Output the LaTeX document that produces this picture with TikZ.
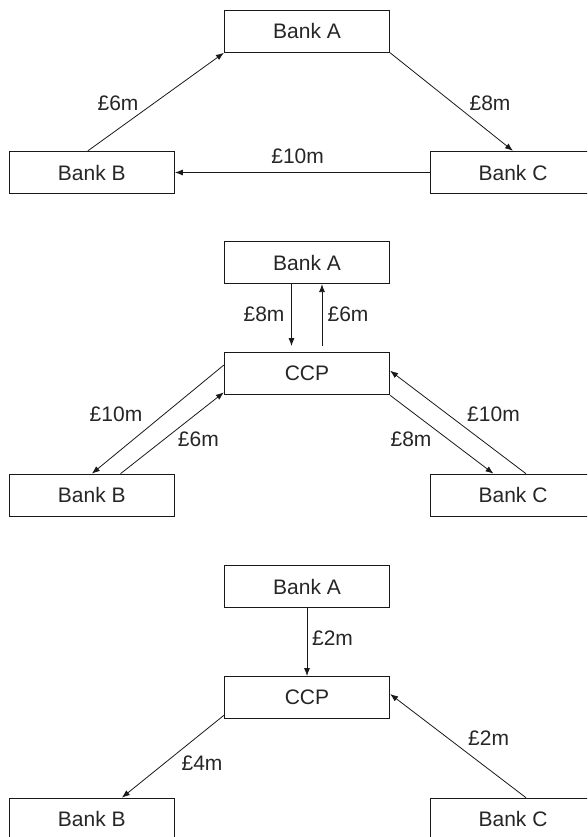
\documentclass[tikz,border=0pt]{standalone}
\usepackage{fontspec}
\setmainfont{Liberation Sans}
\usetikzlibrary{arrows.meta}
\tikzset{
  bank/.style={draw=black!90, line width=1.2pt, minimum width=165pt, minimum height=42pt,
    inner sep=0pt, font=\fontsize{21}{25}\selectfont, text=black!85},
  flow/.style={draw=black!90, line width=0.8pt, -{Latex[length=8pt,width=6pt]}},
  amount/.style={font=\fontsize{21}{25}\selectfont, text=black!85, inner sep=0pt}
}
\begin{document}
\begin{tikzpicture}[x=1pt, y=-1pt]
\useasboundingbox (0,0) rectangle (587,837);
\clip (0,0) rectangle (587,837);

% --- gross bilateral payments ---
\node[bank] (a1) at (307,31.2) {Bank A};
\node[bank] (b1) at (91.8,172.5) {Bank B};
\node[bank] (c1) at (513,172.5) {Bank C};
\draw[flow] ([xshift=-4pt]b1.north) -- (a1.south west);
\draw[flow] (a1.south east) -- (c1.north);
\draw[flow] (c1.west) -- (b1.east);
\node[amount] (l1a) at (118,103.3) {£6m};
\node[amount] (l1b) at (490,103.3) {£8m};
\node[amount] (l1c) at (297.6,156.7) {£10m};

% --- gross payments via the CCP ---
\node[bank] (a2) at (307,262.5) {Bank A};
\node[bank] (p2) at (307,373.7) {CCP};
\node[bank] (b2) at (91.8,495.3) {Bank B};
\node[bank] (c2) at (513,495.3) {Bank C};
\draw[flow, shorten >=6pt] ([xshift=-15.5pt]a2.south) -- ([xshift=-15.5pt]p2.north);
\draw[flow, shorten <=6pt] ([xshift=15pt]p2.north) -- ([xshift=15pt]a2.south);
\draw[flow] ([yshift=8.7pt]p2.west) -- (b2.north);
\draw[flow] ([xshift=28.7pt]b2.north) -- ([yshift=3pt]p2.south west);
\draw[flow] (p2.south east) -- ([xshift=-19.5pt]c2.north);
\draw[flow] ([xshift=13pt]c2.north) -- ([yshift=3pt]p2.east);
\node[amount] (l2a) at (264,314.3) {£8m};
\node[amount] (l2b) at (348,314.3) {£6m};
\node[amount] (l2c) at (116,414.3) {£10m};
\node[amount] (l2d) at (198.4,439.3) {£6m};
\node[amount] (l2e) at (411,439.3) {£8m};
\node[amount] (l2f) at (493.5,414.3) {£10m};

% --- net payments via the CCP ---
\node[bank] (a3) at (307,586.7) {Bank A};
\node[bank] (p3) at (307,697.7) {CCP};
\node[bank] (b3) at (91.8,819.3) {Bank B};
\node[bank] (c3) at (513,819.3) {Bank C};
\draw[flow] (a3.south) -- (p3.north);
\draw[flow] ([yshift=4pt]p3.south west) -- ([xshift=30pt]b3.north);
\draw[flow] ([xshift=13pt]c3.north) -- ([yshift=3.7pt]p3.east);
\node[amount] (l3a) at (332.5,638.3) {£2m};
\node[amount] (l3b) at (202,763.3) {£4m};
\node[amount] (l3c) at (488.6,737.7) {£2m};
\end{tikzpicture}
\end{document}
